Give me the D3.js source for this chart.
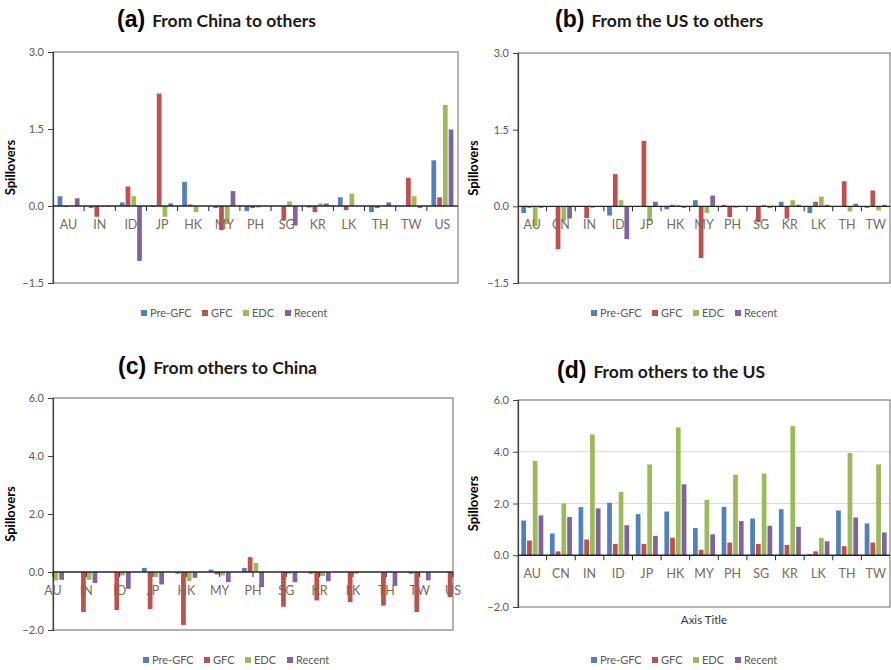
<!DOCTYPE html>
<html><head><meta charset="utf-8">
<script src="https://cdn.jsdelivr.net/npm/d3@7"></script>
<style>body{margin:0;background:#fff}svg{display:block}</style>
</head><body>
<svg id="chart" width="891" height="670"></svg>
<script>
const seriesNames = ["Pre-GFC","GFC","EDC","Recent"];
const seriesColors = ["#4F81BD","#C0504D","#9BBB59","#8064A2"];

// (a) From China to others
const catsA = ["AU","IN","ID","JP","HK","MY","PH","SG","KR","LK","TH","TW","US"];
const preGfcA = [0.19,-0.04,0.07,-0.02,0.47,-0.04,-0.10,0.00,-0.03,0.17,-0.12,0.00,0.89];
const gfcA    = [-0.02,-0.21,0.38,2.19,0.03,-0.47,-0.04,-0.28,-0.12,-0.08,-0.04,0.55,0.17];
const edcA    = [0.00,-0.02,0.19,-0.21,-0.12,-0.35,-0.03,0.09,0.05,0.24,0.00,0.19,1.97];
const recentA = [0.15,-0.02,-1.07,0.05,0.00,0.29,0.00,-0.38,0.05,0.00,0.07,-0.04,1.49];

// (b) From the US to others
const catsB = ["AU","CN","IN","ID","JP","HK","MY","PH","SG","KR","LK","TH","TW"];
const preGfcB = [-0.13,0.00,0.00,-0.18,0.00,-0.06,0.12,0.03,0.00,0.09,-0.13,0.00,-0.03];
const gfcB    = [-0.03,-0.84,-0.23,0.63,1.28,0.03,-1.01,-0.21,-0.31,-0.24,0.09,0.49,0.31];
const edcB    = [-0.39,-0.29,-0.03,0.12,-0.29,0.03,-0.13,-0.03,0.03,0.12,0.19,-0.10,-0.08];
const recentB = [-0.03,-0.24,0.00,-0.64,0.09,-0.03,0.21,0.00,-0.03,0.03,0.03,0.05,0.03];

// (c) From others to China
const catsC = ["AU","IN","ID","JP","HK","MY","PH","SG","KR","LK","TH","TW","US"];
const preGfcC = [0.00,0.00,0.00,0.14,-0.06,0.08,0.14,0.00,-0.06,0.00,0.00,-0.06,0.00];
const gfcC    = [0.00,-1.38,-1.31,-1.28,-1.83,-0.08,0.51,-1.20,-0.98,-1.04,-1.16,-1.38,-0.87];
const edcC    = [-0.29,-0.27,-0.12,-0.17,-0.31,-0.12,0.31,-0.06,-0.14,-0.06,0.03,0.00,0.00];
const recentC = [-0.27,-0.38,-0.58,-0.43,-0.20,-0.35,-0.52,-0.35,-0.32,0.00,-0.48,-0.29,0.00];

// (d) From others to the US
const catsD = ["AU","CN","IN","ID","JP","HK","MY","PH","SG","KR","LK","TH","TW"];
const preGfcD = [1.34,0.84,1.86,2.03,1.59,1.69,1.05,1.87,1.42,1.78,0.04,1.73,1.23];
const gfcD    = [0.57,0.15,0.61,0.44,0.44,0.68,0.21,0.49,0.44,0.40,0.15,0.35,0.49];
const edcD    = [3.64,2.00,4.67,2.45,3.51,4.94,2.14,3.11,3.16,4.99,0.67,3.95,3.51];
const recentD = [1.54,1.48,1.81,1.16,0.75,2.74,0.81,1.32,1.14,1.10,0.54,1.46,0.88];

const ticksAB = [-1.5,0,1.5,3.0];
const ticksCD = [-2,0,2,4,6];

const panels = [
  {id:"a", label:"(a)", title:"From China to others", cats:catsA, series:[preGfcA,gfcA,edcA,recentA],
   x0:53, x1:458, y0:52, y1:283, domain:[-1.5,3], ticks:ticksAB, point:false, grid:false,
   titleX:117, titleY:27, legendX:141, legendY:313, ylabX:15},
  {id:"b", label:"(b)", title:"From the US to others", cats:catsB, series:[preGfcB,gfcB,edcB,recentB],
   x0:518, x1:890, y0:53, y1:283, domain:[-1.5,3], ticks:ticksAB, point:false, grid:false,
   titleX:555, titleY:27, legendX:591, legendY:313, ylabX:478},
  {id:"c", label:"(c)", title:"From others to China", cats:catsC, series:[preGfcC,gfcC,edcC,recentC],
   x0:53, x1:453, y0:398, y1:630, domain:[-2,6], ticks:ticksCD, point:true, grid:false,
   titleX:118, titleY:374, legendX:143, legendY:660, ylabX:15},
  {id:"d", label:"(d)", title:"From others to the US", cats:catsD, series:[preGfcD,gfcD,edcD,recentD],
   x0:518, x1:890, y0:400, y1:607, domain:[-2,6], ticks:ticksCD, point:false, grid:true,
   titleX:557, titleY:378, legendX:591, legendY:660, ylabX:478, axisTitle:"Axis Title"}
];

const svg = d3.select("#chart");
const defs = svg.append("defs");
const labelColor = "#7a6a5c";
const tickColor = "#595959";

panels.forEach(p => {
  const g = svg.append("g");
  const y = d3.scaleLinear().domain(p.domain).range([p.y1, p.y0]);
  let xc, step;
  if (p.point) {
    const xp = d3.scalePoint().domain(p.cats).range([p.x0, p.x1]);
    step = xp.step();
    xc = c => xp(c);
  } else {
    const xb = d3.scaleBand().domain(p.cats).range([p.x0, p.x1]);
    step = xb.step();
    xc = c => xb(c) + xb.bandwidth()/2;
  }
  const groupW = 22;
  const xs = d3.scaleBand().domain(d3.range(4)).range([-groupW/2, groupW/2]).paddingInner(0.18);

  if (p.grid) {
    g.selectAll(".grid").data(p.ticks.filter(t => t > 0 && t < p.domain[1])).join("line")
      .attr("x1", p.x0).attr("x2", p.x1).attr("y1", d => y(d)).attr("y2", d => y(d))
      .attr("stroke", "#d9d9d9").attr("stroke-width", 1);
  }

  defs.append("clipPath").attr("id", "clip-" + p.id).append("rect")
    .attr("x", p.x0).attr("y", p.y0).attr("width", p.x1 - p.x0).attr("height", p.y1 - p.y0);

  const bars = g.append("g").attr("clip-path", `url(#clip-${p.id})`);
  p.series.forEach((vals, si) => {
    bars.selectAll(".s" + si).data(vals.map((v, i) => ({v, c: p.cats[i]}))).join("rect")
      .attr("x", d => xc(d.c) + xs(si))
      .attr("width", xs.bandwidth())
      .attr("y", d => Math.min(y(d.v), y(0)))
      .attr("height", d => Math.abs(y(d.v) - y(0)))
      .attr("fill", seriesColors[si]);
  });

  g.append("rect").attr("x", p.x0).attr("y", p.y0).attr("width", p.x1 - p.x0).attr("height", p.y1 - p.y0)
    .attr("fill", "none").attr("stroke", "#808080").attr("stroke-width", 1.2);

  const yAxis = d3.axisLeft(y).tickValues(p.ticks).tickFormat(d3.format(".1f")).tickSize(5).tickPadding(4);
  const ya = g.append("g").attr("transform", `translate(${p.x0},0)`).call(yAxis);
  ya.select(".domain").attr("stroke", "#404040").attr("stroke-width", 1.2);
  ya.selectAll(".tick line").attr("stroke", "#404040");
  ya.selectAll("text").attr("font-family", "Lato, 'Open Sans', sans-serif").attr("font-size", 11).attr("fill", tickColor);

  g.append("line").attr("x1", p.x0).attr("x2", p.x1).attr("y1", y(0)).attr("y2", y(0))
    .attr("stroke", "#262626").attr("stroke-width", 1.3);

  let tickXs;
  if (p.point) tickXs = p.cats.map(c => xc(c));
  else tickXs = d3.range(1, p.cats.length).map(i => p.x0 + i * step);
  g.selectAll(".ctick").data(tickXs).join("line")
    .attr("x1", d => d).attr("x2", d => d).attr("y1", y(0)).attr("y2", y(0) + 5)
    .attr("stroke", "#262626").attr("stroke-width", 1);

  g.selectAll(".clab").data(p.cats).join("text")
    .attr("x", d => xc(d)).attr("y", y(0) + 23)
    .attr("text-anchor", "middle")
    .attr("font-family", "Lato, 'Open Sans', sans-serif").attr("font-size", 12.5)
    .attr("fill", labelColor)
    .text(d => d);

  g.append("text").attr("transform", `translate(${p.ylabX},${(p.y0 + p.y1)/2}) rotate(-90)`)
    .attr("text-anchor", "middle").attr("font-family", "Lato, sans-serif").attr("font-weight", "bold")
    .attr("font-size", 13).attr("fill", "#000").text("Spillovers");

  const t = g.append("text").attr("x", p.titleX).attr("y", p.titleY);
  t.append("tspan").attr("font-family", "'Liberation Sans', Arial, sans-serif").attr("font-weight", "bold")
    .attr("font-size", 23).text(p.label);
  t.append("tspan").attr("dx", 7).attr("font-family", "Lato, sans-serif").attr("font-weight", "bold")
    .attr("font-size", 17.5).attr("fill", "#1a1a1a").text(p.title);

  if (p.axisTitle) {
    g.append("text").attr("x", (p.x0 + p.x1)/2).attr("y", p.y1 + 17).attr("text-anchor", "middle")
      .attr("font-family", "Lato, sans-serif").attr("font-size", 11.5).attr("fill", "#333").text(p.axisTitle);
  }

  const offs = [0, 61, 102, 144];
  const lg = g.append("g").attr("transform", `translate(${p.legendX},${p.legendY})`);
  seriesNames.forEach((s, i) => {
    lg.append("rect").attr("x", offs[i]).attr("y", -3).attr("width", 6).attr("height", 6).attr("fill", seriesColors[i]);
    lg.append("text").attr("x", offs[i] + 9).attr("y", 4)
      .attr("font-family", "Lato, 'Open Sans', sans-serif").attr("font-size", 11).attr("fill", tickColor).text(s);
  });
});
</script>
</body></html>
